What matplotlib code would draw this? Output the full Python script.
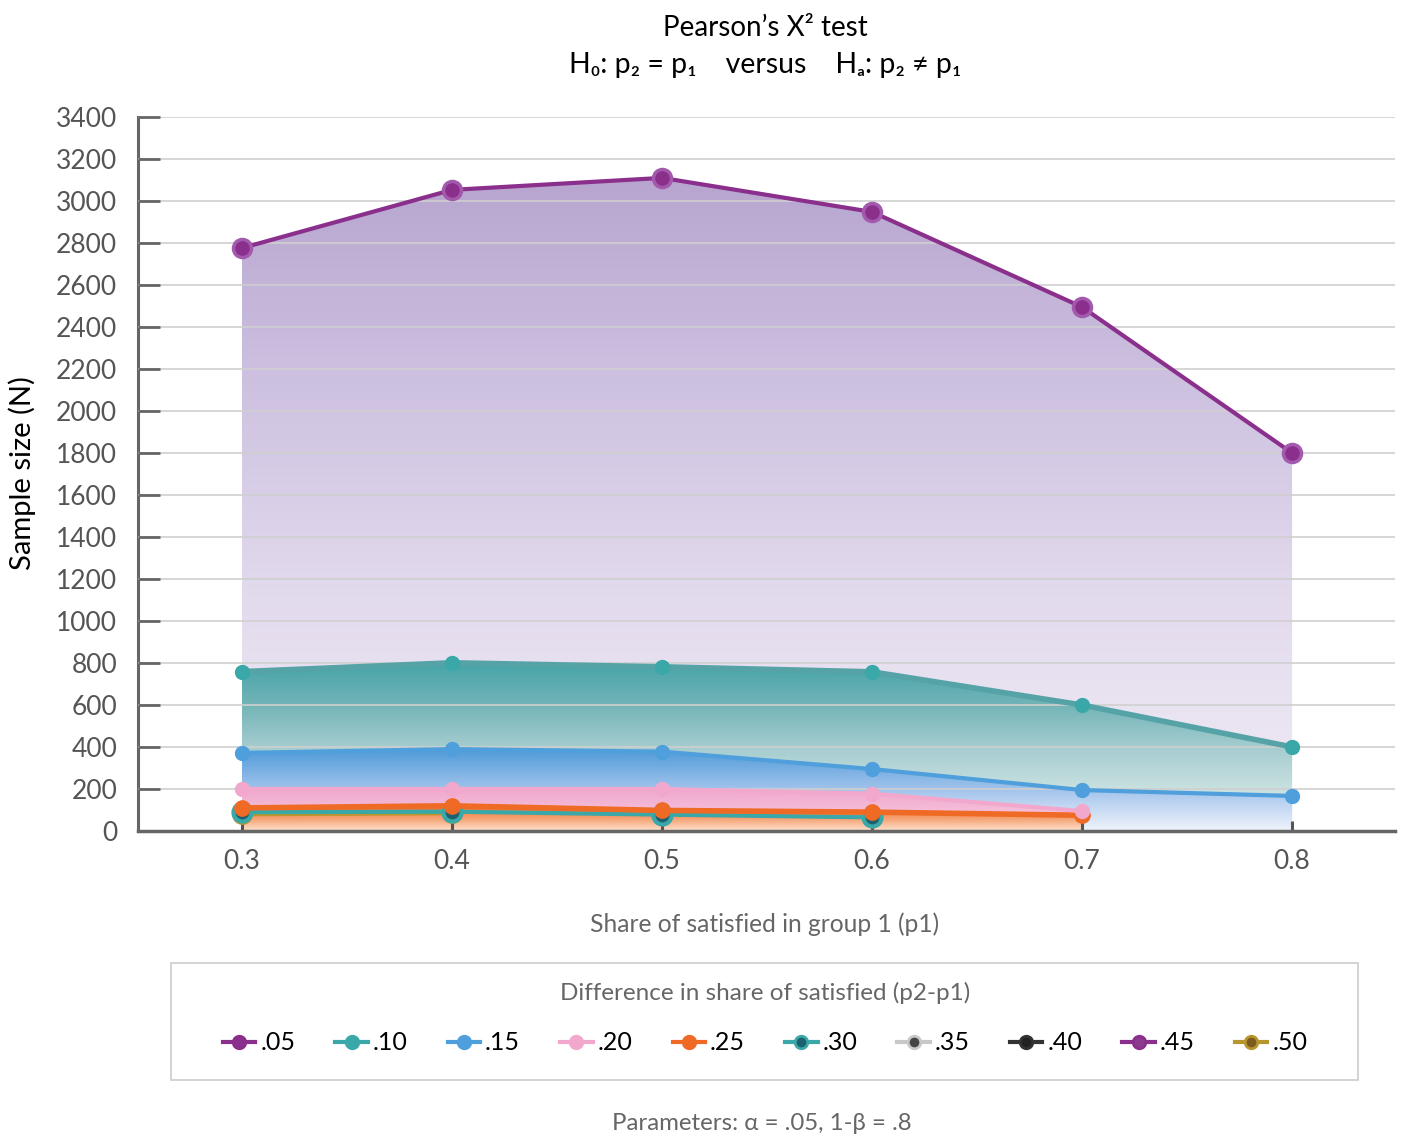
import numpy as np
import matplotlib
matplotlib.use('Agg')
from matplotlib import pyplot as plt
from matplotlib.colors import LinearSegmentedColormap
from matplotlib.lines import Line2D
from matplotlib.patches import Rectangle

plt.rcParams['font.family'] = ['Lato', 'DejaVu Sans']

# data
p1 = [0.3, 0.4, 0.5, 0.6, 0.7, 0.8]
n_05 = [2776, 3053, 3110, 2948, 2495, 1800]
n_10 = [759, 801, 782, 758, 600, 400]
n_15 = [372, 390, 378, 295, 195, 167]
n_20 = [200, 200, 200, 178, 95]
n_25 = [110, 120, 98, 90, 75]
n_30 = [90, 92, 78, 65]
n_50 = [80, 85]

legend_labels = ['.05', '.10', '.15', '.20', '.25', '.30', '.35', '.40', '.45', '.50']
line_colors = ['#8b2f8d', '#3aa8a8', '#4f9fdc', '#f2a8cc', '#ee6a25',
               '#3aa8a8', '#c8c8c8', '#333333', '#8b2f8d', '#b8962e']
marker_faces = ['#8b2f8d', '#3aa8a8', '#4f9fdc', '#f2a8cc', '#ee6a25',
                '#1f6070', '#444444', '#222222', '#8b3a8e', '#7a5c20']


def gradient_fill(ax, x, y, stops, zorder):
    poly = ax.fill_between(x, y, 0, facecolor='none', edgecolor='none')
    cmap = LinearSegmentedColormap.from_list('g', stops)
    grad = np.linspace(0, 1, 256).reshape(-1, 1)
    im = ax.imshow(grad, cmap=cmap, aspect='auto', origin='lower',
                   extent=[min(x), max(x), 0, max(y)], zorder=zorder,
                   interpolation='bilinear')
    im.set_clip_path(poly.get_paths()[0], transform=ax.transData)


fig = plt.figure(figsize=(14.03, 11.37), dpi=100)
ax = fig.add_axes([138 / 1403, 1 - 831 / 1137, (1395 - 138) / 1403, (831 - 117) / 1137])

# gradient areas, back to front
gradient_fill(ax, p1, n_05, [(0, '#f1edf6'), (0.33, '#e4dcee'), (0.65, '#d0c4e2'), (1, '#b7a5cf')], 1.0)
gradient_fill(ax, p1, n_10, [(0, '#e8f2f2'), (0.25, '#c8e0e0'), (0.5, '#a4cccf'), (0.75, '#72b4b7'), (1, '#45a4a8')], 1.1)
gradient_fill(ax, p1, n_15, [(0, '#f0f4fc'), (0.5, '#a3c4ec'), (1, '#4f9bd9')], 1.2)
gradient_fill(ax, p1[:5], n_20, [(0, '#fbdde9'), (0.5, '#f5bcd8'), (1, '#f0a8cc')], 1.3)
gradient_fill(ax, p1[:5], n_25, [(0, '#fde2cf'), (0.5, '#f5a070'), (1, '#ee6a25')], 1.4)

# lines + markers
ax.plot(p1[:2], n_50, color=line_colors[9], lw=3, marker='o', ms=13,
        mfc=marker_faces[9], mec=line_colors[9], mew=2, zorder=3.0)
ax.plot(p1[:4], n_30, color=line_colors[5], lw=3, marker='o', ms=13,
        mfc=marker_faces[5], mec=line_colors[5], mew=3, zorder=3.1)
ax.plot(p1[:5], n_25, color=line_colors[4], lw=4, marker='o', ms=11,
        mfc=marker_faces[4], mec=marker_faces[4], zorder=3.2)
ax.plot(p1[:5], n_20, color=line_colors[3], lw=3, marker='o', ms=10,
        mfc=marker_faces[3], mec=marker_faces[3], zorder=3.3)
ax.plot(p1, n_15, color=line_colors[2], lw=3, marker='o', ms=10,
        mfc=marker_faces[2], mec=marker_faces[2], zorder=3.4)
ax.plot(p1, n_10, color='#55a3a6', lw=4, marker='o', ms=10,
        mfc=marker_faces[1], mec=marker_faces[1], zorder=3.5)
ax.plot(p1, n_05, color=line_colors[0], lw=3, marker='o', ms=13,
        mfc=marker_faces[0], mec='#a35aad', mew=2.5, zorder=3.6)

ax.set_xlim(0.2505, 0.849)
ax.set_ylim(0, 3400)
ax.set_xticks(p1)
ax.set_xticklabels(['0.3', '0.4', '0.5', '0.6', '0.7', '0.8'])
ax.set_yticks(np.arange(0, 3401, 200))

ax.grid(axis='y', color='#cfcfcf', lw=1.2)
ax.set_axisbelow(False)
for s in ['top', 'right']:
    ax.spines[s].set_visible(False)
ax.spines['left'].set_color('#666666')
ax.spines['left'].set_linewidth(2.2)
ax.spines['bottom'].set_color('#666666')
ax.spines['bottom'].set_linewidth(2.5)
ax.spines['bottom'].set_zorder(5)
ax.tick_params(axis='y', direction='in', length=16, width=2, color='#666666',
               labelsize=19, labelcolor='#555555', pad=15)
ax.tick_params(axis='x', direction='in', length=7, width=2.2, color='#555555',
               labelsize=19, labelcolor='#555555', pad=13)

# titles and labels
fig.text(765 / 1403, 1 - 28 / 1137, 'Pearson\u2019s X\u00b2 test', ha='center', va='center', fontsize=20)
fig.text(765 / 1403, 1 - 65 / 1137, 'H\u2080: p\u2082 = p\u2081    versus    H\u2090: p\u2082 \u2260 p\u2081',
         ha='center', va='center', fontsize=20.5)
fig.text(22 / 1403, 1 - 473 / 1137, 'Sample size (N)', rotation=90, ha='center', va='center', fontsize=21)
fig.text(765 / 1403, 1 - 924 / 1137, 'Share of satisfied in group 1 (p1)', ha='center', va='center',
         fontsize=17.7, color='#666666')
fig.text(762 / 1403, 1 - 1124 / 1137, 'Parameters: \u03b1 = .05, 1-\u03b2 = .8', ha='center', va='center',
         fontsize=17.3, color='#666666')

# legend box drawn separately
fig.patches.append(Rectangle((171 / 1403, 1 - 1080 / 1137), (1358 - 171) / 1403, (1080 - 963) / 1137,
                             transform=fig.transFigure, fill=False, edgecolor='#cccccc', lw=1.2))

handles = []
for i, lab in enumerate(legend_labels):
    handles.append(Line2D([0], [0], color=line_colors[i], lw=3, marker='o', ms=9,
                          mfc=marker_faces[i], mec=line_colors[i], mew=2, label=lab))
leg = fig.legend(handles=handles, ncol=10, loc='center',
                 bbox_to_anchor=(765 / 1403, 1 - 1018 / 1137),
                 fontsize=18, title='Difference in share of satisfied (p2-p1)',
                 title_fontsize=17.5, frameon=False,
                 handlelength=1.3, handletextpad=0.2, columnspacing=1.6,
                 borderpad=0, borderaxespad=0)
leg.get_title().set_color('#666666')
leg._legend_box.sep = 20

fig.savefig('out.png', dpi=100)
